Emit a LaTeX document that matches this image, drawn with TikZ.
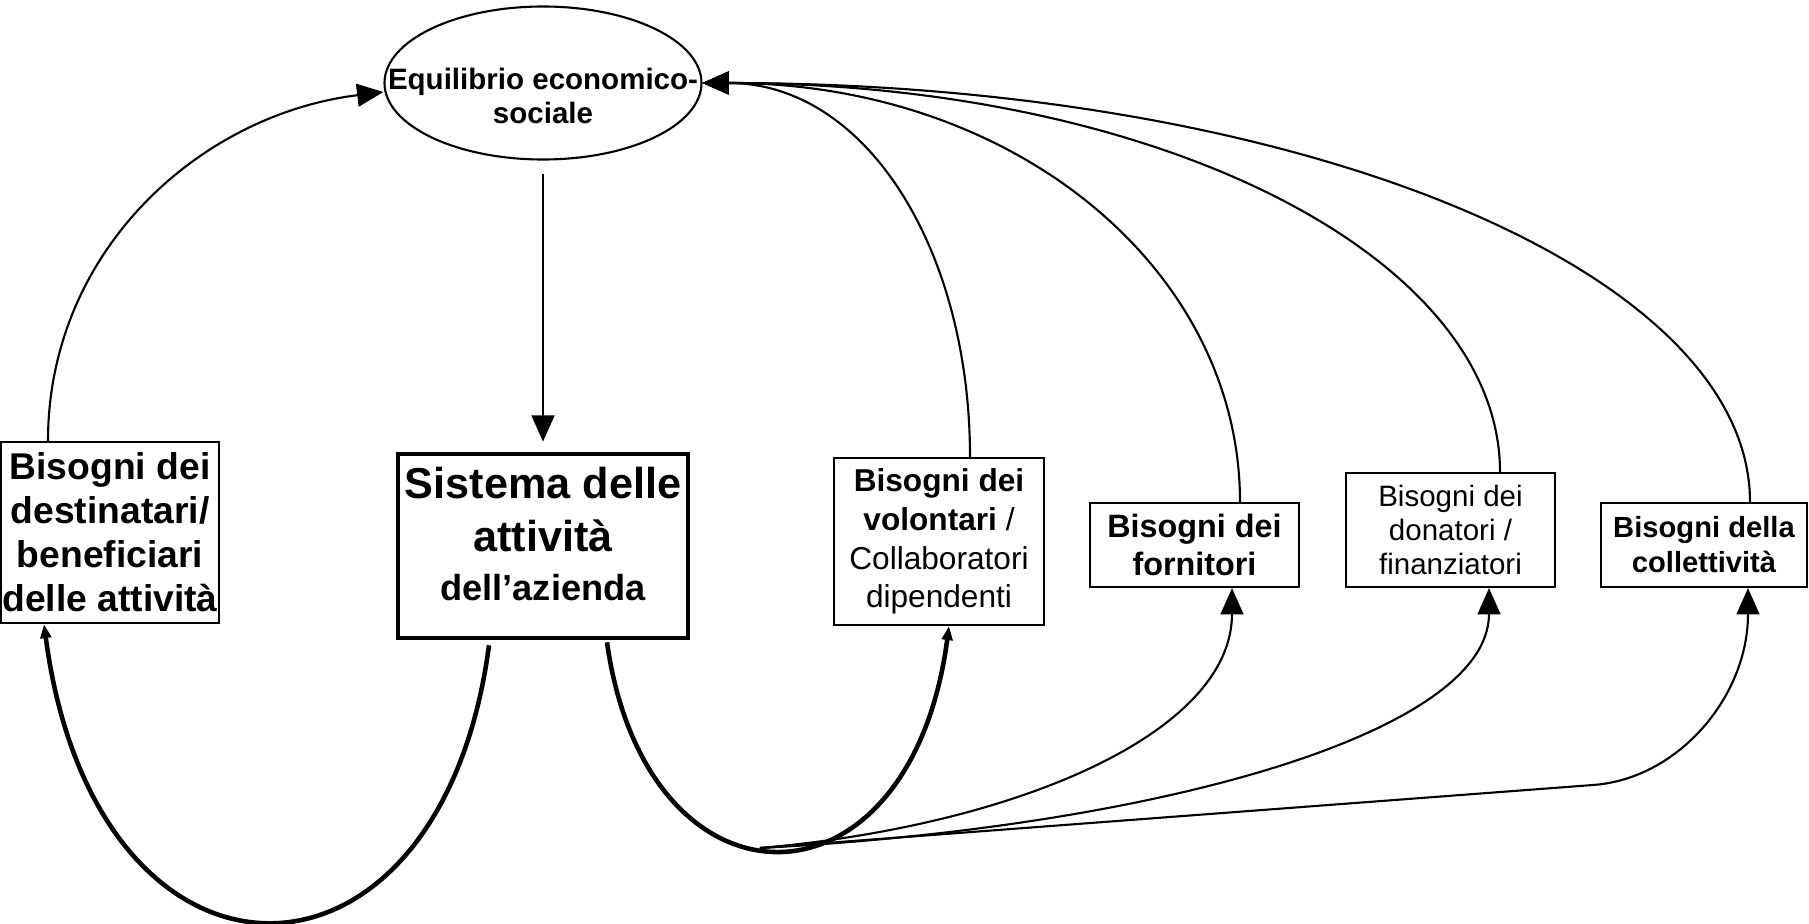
\documentclass[tikz,border=0pt]{standalone}
\usepackage{fontspec}
\setmainfont{Liberation Sans}
\usetikzlibrary{arrows.meta, shapes.geometric}
\tikzset{%
	need/.style={draw, rectangle, line width=0.6pt, inner sep=0mm, align=center},
	core/.style={draw, rectangle, line width=1.3pt, inner sep=0mm, align=center},
	goal/.style={draw, ellipse, line width=0.6pt, inner sep=0mm,%
		minimum width=31.7mm, minimum height=15.3mm},
	flow/.style={-{Triangle[length=7.5pt, width=6.5pt]}, line width=0.6pt},
	feed/.style={-{Triangle[length=4pt, width=3pt]}, line width=1.3pt}
}

\begin{document}
\begin{tikzpicture}
	\useasboundingbox (0,0) rectangle (18.09,9.23);

	\node [goal] (eq) at (5.43,8.40) {};
	\node [align=center, font=\fontsize{8.4}{9.8}\selectfont\bfseries] (eqtext) at ([yshift=-1.3mm]eq.center) {Equilibrio economico-\\sociale};

	\node [need, minimum width=21.8mm, minimum height=18.1mm, font=\fontsize{10.6}{12.5}\selectfont\bfseries] (dest) at (1.10,3.905) {Bisogni dei\\destinatari/\\beneficiari\\delle attività};
	\node [core, minimum width=29mm, minimum height=18.4mm] (sis) at (5.43,3.77) {};
	\node [align=center, font=\fontsize{12.3}{15.2}\selectfont\bfseries] (sistext) at ([yshift=1.2mm]sis.center) {Sistema delle\\attività\\[-1.4pt]{\fontsize{10.3}{13.7}\selectfont dell’azienda}};
	\node [need, minimum width=21mm, minimum height=16.7mm, font=\fontsize{9}{11}\selectfont] (vol) at (9.39,3.815) {\textbf{Bisogni dei}\\\textbf{volontari} /\\Collaboratori\\dipendenti};
	\node [need, minimum width=20.9mm, minimum height=8.4mm, font=\fontsize{9.2}{10.8}\selectfont\bfseries] (forn) at (11.945,3.78) {Bisogni dei\\fornitori};
	\node [need, minimum width=20.9mm, minimum height=11.4mm, font=\fontsize{8.4}{9.8}\selectfont] (don) at (14.505,3.93) {Bisogni dei\\donatori /\\finanziatori};
	\node [need, minimum width=20.6mm, minimum height=8.4mm, font=\fontsize{8.3}{10}\selectfont\bfseries] (coll) at (17.04,3.78) {Bisogni della\\collettività};

	\coordinate (fork) at (7.60,0.75);
	\coordinate (kcoll) at (15.93,1.38);

	%up
	\draw [flow, shorten <=1.3mm, shorten >=1mm] (eq) -- (sis);
	\draw [flow] ([xshift=-6.2mm]dest.north) to [out=90, in=187, out distance=19mm, in distance=18.5mm] ([yshift=-0.9mm]eq.west);
	\draw [flow] ([xshift=3.1mm]vol.north) to [out=90, in=0, out distance=20.7mm, in distance=16.4mm] (eq.east);
	\draw [flow] ([xshift=4.55mm]forn.north) to [out=90, in=0, out distance=23.2mm, in distance=31.3mm] (eq.east);
	\draw [flow] ([xshift=4.95mm]don.north) to [out=90, in=0, out distance=21.5mm, in distance=45.7mm] (eq.east);
	\draw [flow] ([xshift=4.6mm]coll.north) to [out=90, in=0, out distance=23.2mm, in distance=59.5mm] (eq.east);

	%down
	\draw [feed] ([xshift=-5.4mm, yshift=-0.5mm]sis.south) to [out=-97.5, in=-82.5, out distance=37.6mm, in distance=39.6mm] ([xshift=-6.6mm]dest.south);
	\draw [feed] ([xshift=6.4mm, yshift=-0.2mm]sis.south) to [out=-82, in=-97.5, out distance=28.2mm, in distance=30mm] ([xshift=1mm]vol.south);
	\draw [flow] (fork) to [out=5, in=-90, out distance=26mm, in distance=14.4mm] ([xshift=3.75mm]forn.south);
	\draw [flow] (fork) to [out=3, in=-90, out distance=40.2mm, in distance=14.4mm] ([xshift=3.85mm]don.south);
	\draw [flow] (fork) -- (kcoll) to [out=4, in=-90, out distance=8.5mm, in distance=10.9mm] ([xshift=4.4mm]coll.south);
\end{tikzpicture}
\end{document}
